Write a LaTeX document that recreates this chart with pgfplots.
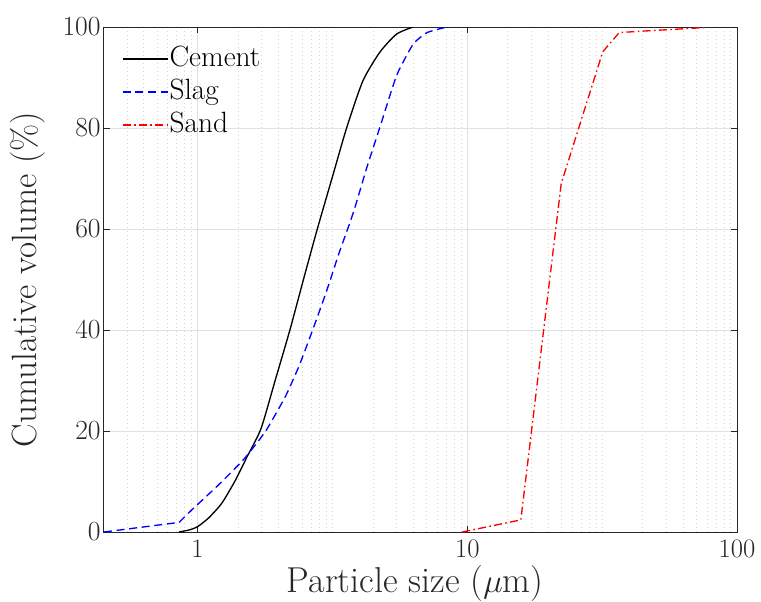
\documentclass[border=0pt]{standalone}
\usepackage{pgfplots}
\pgfplotsset{compat=1.18}
\definecolor{axgray}{RGB}{38,38,38}
\definecolor{gridc}{RGB}{225,225,225}
\definecolor{mgridc}{RGB}{214,214,214}
\begin{document}
\begin{tikzpicture}
\useasboundingbox (-78pt,-51.75pt) rectangle (492.75pt,399pt);
\begin{axis}[
  at={(0pt,0pt)}, anchor=south west,
  scale only axis,
  width=474.75pt, height=378.75pt,
  xmode=log, xmin=0.45, xmax=100, ymin=0, ymax=100,
  xtick={1,10,100}, xticklabels={1,10,100},
  minor xtick={0.5477,0.6325,0.7071,0.7746,0.8367,0.8944,0.9487,1.4142,1.7321,2,2.2361,2.4495,2.6458,2.8284,3,3.1623,4.4721,5.4772,6.3246,7.0711,7.746,8.3666,8.9443,9.4868,14.142,17.321,20,22.361,24.495,26.458,28.284,30,31.623,44.721,54.772,63.246,70.711,77.46,83.666,89.443,94.868},
  ytick={0,20,40,60,80,100},
  grid=both,
  major grid style={gridc, line width=0.7pt},
  minor grid style={mgridc, line width=0.6pt, dash pattern=on 0.7pt off 2.3pt},
  tick align=inside,
  major tick length=4.5pt, minor tick length=0pt,
  tick style={axgray, line width=0.6pt},
  axis line style={axgray, line width=0.75pt},
  ticklabel style={font=\fontsize{20}{24}\selectfont, text=axgray},
  xticklabel style={yshift=-2pt},
  yticklabel style={xshift=1pt},
  xlabel={Particle size ($\mu$m)},
  ylabel={Cumulative volume (\%)},
  xlabel style={font=\fontsize{27}{32}\selectfont, text=axgray, at={(axis description cs:0.5,0)}, anchor=center, yshift=-39pt, xshift=-4pt},
  ylabel style={font=\fontsize{26.3}{31}\selectfont, text=axgray, at={(axis description cs:-0.12,0.5)}, anchor=center},
  legend style={draw=none, fill=none, at={(axis description cs:0.0284,1)}, anchor=north west,
    yshift=-12.5pt, inner sep=0pt, outer sep=0pt,
    font=\fontsize{22}{26}\selectfont, row sep=1.75pt,
    nodes={inner sep=1pt, text height=16pt, text depth=5pt}},
  legend cell align=left,
  legend image code/.code={\draw[#1] plot coordinates {(0pt,0pt) (33.75pt,0pt)};},
]
\addplot[black, line width=1.0pt, smooth, tension=0.4] coordinates {
(0.853,0) (0.93,0.4) (1.0,1.05) (1.1,2.8) (1.23,5.7) (1.38,10.2) (1.53,15) (1.72,20.5) (1.94,30) (2.2,40) (2.47,50) (2.78,60) (3.15,70) (3.57,80) (4.1,89.3) (4.74,95) (5.47,98.6) (6.3,100)
};
\addlegendentry{Cement}
\addplot[blue, line width=1.0pt, dash pattern=on 6pt off 3.5pt, smooth, tension=0.3] coordinates {
(0.854,1.9) (0.94,4.1) (1.2,9.4) (1.49,14.5) (1.79,20.0) (2.12,26.9) (2.38,32.9) (2.65,39.5) (3.0,47.5) (3.35,55.3) (3.63,60.5) (3.82,64) (4.25,72.3) (4.74,80.1) (5.47,90.4) (6.3,96.6) (7.1,98.9) (8.4,100)
};
\addlegendentry{Slag}
\addplot[blue, line width=1.0pt, dash pattern=on 6pt off 3.5pt, forget plot] coordinates {
(0.45,0) (0.854,1.9)
};
\addplot[red, line width=1.0pt, dash pattern=on 6pt off 2.5pt on 1.2pt off 2.5pt] coordinates {
(9.58,0) (15.8,2.4) (22.3,69.0) (31.8,95.1) (36.6,98.9) (48.7,99.3) (76.9,99.9)
};
\addlegendentry{Sand}
\end{axis}
\end{tikzpicture}
\end{document}
